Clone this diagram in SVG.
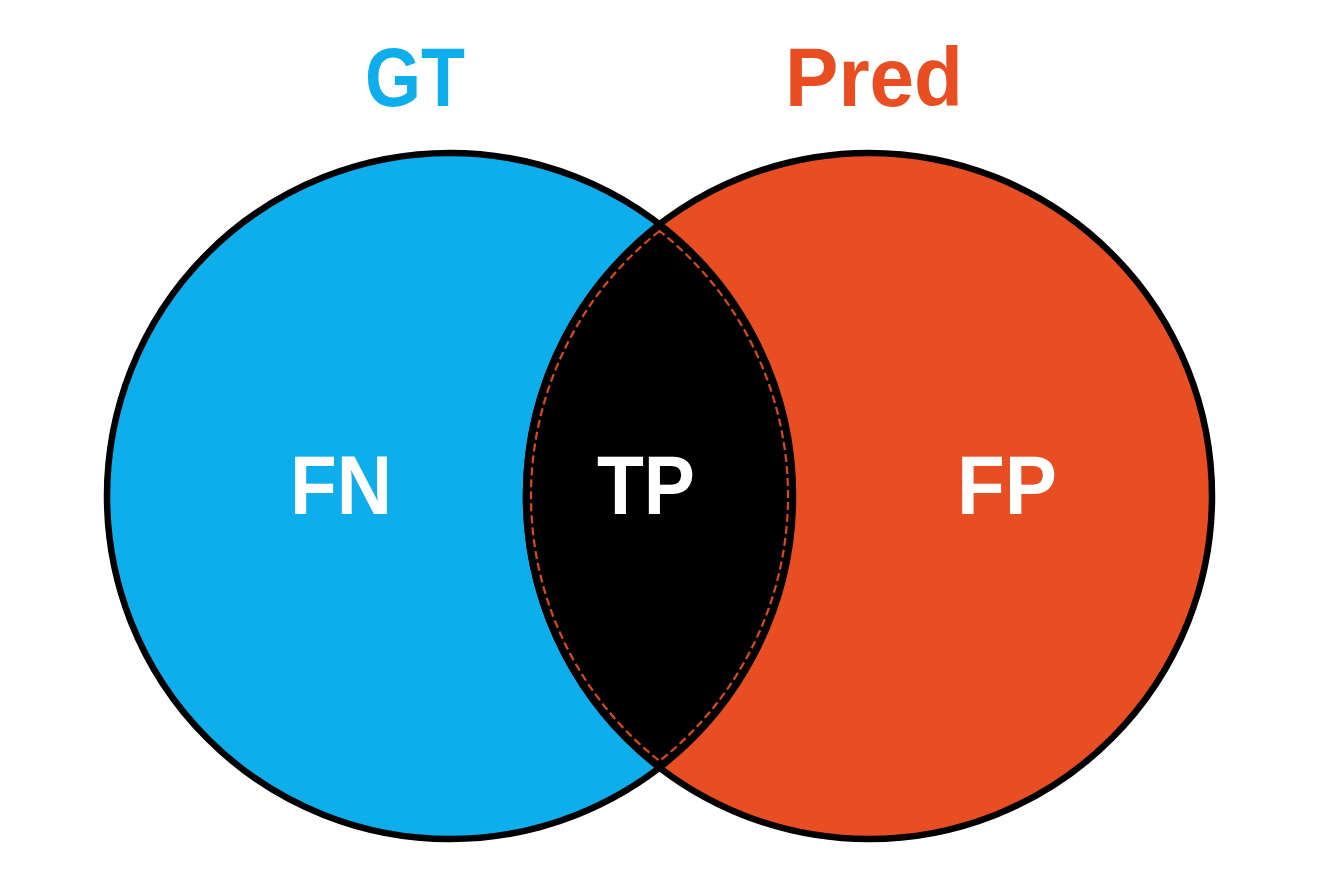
<svg xmlns="http://www.w3.org/2000/svg" width="1320" height="890" viewBox="0 0 1320 890">
  <style>
    .lbl { font-family: "Liberation Sans", Arial, sans-serif; font-weight: bold; font-size: 84px; text-anchor: middle; }
    .ring { stroke: #000; stroke-width: 6.5; }
  </style>
  <rect width="1320" height="890" fill="#fff"/>
  <g id="gt">
    <circle class="ring" cx="450" cy="496" r="343" fill="#0EAEEC"/>
    <text class="lbl" x="415" y="106" fill="#0EAEEC" textLength="100" lengthAdjust="spacingAndGlyphs">GT</text>
    <text class="lbl" x="341" y="514" fill="#fff" textLength="102" lengthAdjust="spacingAndGlyphs">FN</text>
  </g>
  <g id="pred">
    <circle class="ring" cx="869" cy="496" r="343" fill="#E84E22"/>
    <text class="lbl" x="874" y="106" fill="#E84E22" textLength="178" lengthAdjust="spacingAndGlyphs">Pred</text>
    <text class="lbl" x="1007" y="514" fill="#fff" textLength="100" lengthAdjust="spacingAndGlyphs">FP</text>
  </g>
  <g id="tp">
    <path class="ring" d="M659.5,224.4 A343,343 0 0,0 659.5,767.6 A343,343 0 0,0 659.5,224.4 Z" fill="#000"/>
    <path d="M659.5,231 A337.5,337.5 0 0,0 659.5,761 A337.5,337.5 0 0,0 659.5,231 Z" fill="none" stroke="#D9481F" stroke-width="2.2" stroke-dasharray="8 4"/>
    <text class="lbl" x="646" y="514" fill="#fff" textLength="98" lengthAdjust="spacingAndGlyphs">TP</text>
  </g>
  <g id="connectors"></g>
</svg>
